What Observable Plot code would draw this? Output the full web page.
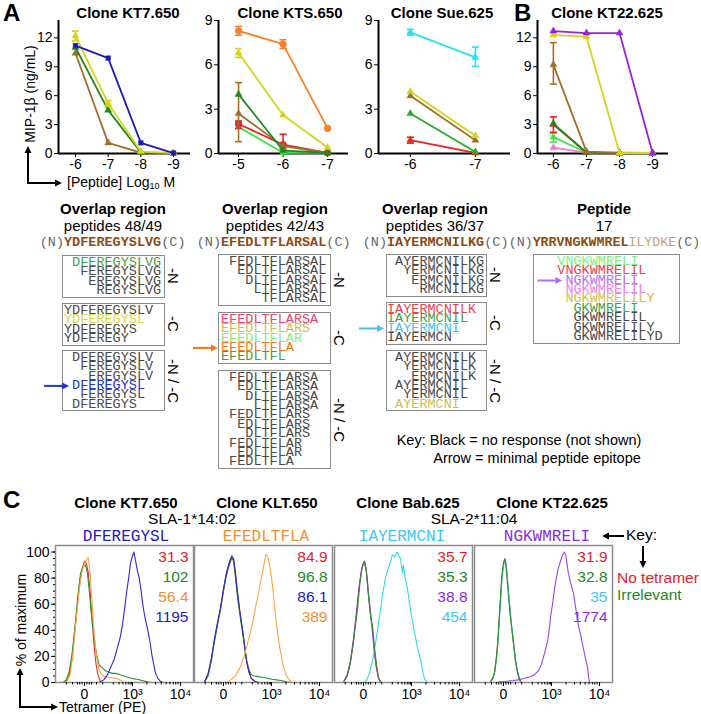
<!DOCTYPE html>
<html><head><meta charset="utf-8">
<script src="https://cdn.jsdelivr.net/npm/d3@7"></script>
<script src="https://cdn.jsdelivr.net/npm/@observablehq/plot@0.6"></script>
<style>
body{margin:0;background:#fff;}
#fig{position:relative;width:701px;height:714px;overflow:hidden;font-family:"Liberation Sans",Arial,sans-serif;color:#000;background:#fff;}
.abs{position:absolute;white-space:nowrap;}
.mono{font-family:"Liberation Mono","Courier New",monospace;}
</style></head><body><div id="fig"></div><script>
// ---------------- DATA ----------------
// Panel A: clone KT7.650
const kt7Dose = [-6, -7, -8, -9];
const kt7Brown = [10.4, 1.1, 0.1, 0.05];
const kt7Green = [11.0, 4.5, 0.1, 0.05];
const kt7Yellow = [12.2, 5.2, 0.2, 0.05];
const kt7YellowErr = [[-6, 11.7, 12.7], [-7, 4.9, 5.5]];
const kt7Blue = [11.2, 9.9, 1.1, 0.05];
// clone KTS.650
const ktsDose = [-5, -6, -7];
const ktsLime = [1.8, 0.05, 0.05];
const ktsRed = [2.0, 0.6, 0.05];
const ktsRedErr = [[-5, 1.7, 2.2], [-6, 0.3, 1.3]];
const ktsBrown = [2.7, 0.5, 0.05];
const ktsBrownErr = [[-5, 0.8, 4.8]];
const ktsDGreen = [4.0, 0.2, 0.05];
const ktsYellow = [6.8, 2.6, 0.4];
const ktsYellowErr = [[-5, 6.5, 7.1]];
const ktsOrange = [8.3, 7.4, 1.7];
const ktsOrangeErr = [[-5, 8.0, 8.6], [-6, 7.1, 7.7]];
// clone Sue.625
const sueDose = [-6, -7];
const sueRed = [0.9, 0.05];
const sueRedErr = [[-6, 0.7, 1.1]];
const sueGreen = [2.7, 0.1];
const sueBrown = [3.9, 0.9];
const sueYellow = [4.2, 1.2];
const sueCyan = [8.2, 6.5];
const sueCyanErr = [[-6, 8.0, 8.4], [-7, 5.9, 7.2]];
// Panel B: clone KT22.625
const kt22Dose = [-6, -7, -8, -9];
const kt22Pink = [0.6, 0.1, 0.05, 0.05];
const kt22Lime = [1.7, 0.1, 0.05, 0.05];
const kt22LimeErr = [[-6, 1.2, 2.1]];
const kt22Red = [3.0, 0.1, 0.05, 0.05];
const kt22RedErr = [[-6, 2.2, 3.8]];
const kt22DGreen = [3.1, 0.1, 0.05, 0.05];
const kt22Brown = [9.2, 0.2, 0.1, 0.05];
const kt22BrownErr = [[-6, 7.2, 11.5]];
const kt22Yellow = [12.3, 12.1, 0.05, 0.05];
const kt22Purple = [12.7, 12.5, 12.5, 0.05];

// Peptide truncations: [sequence, response colour key or null]
const pep4849Parent = "YDFEREGYSLVG";
const pep4849N = [["DFEREGYSLVG","green"],["FEREGYSLVG",null],["EREGYSLVG",null],["REGYSLVG",null]];
const pep4849C = [["YDFEREGYSLV",null],["YDFEREGYSL","yellow"],["YDFEREGYS",null],["YDFEREGY",null]];
const pep4849NC = [["DFEREGYSLV",null],["FEREGYSLV",null],["EREGYSLV",null],["DFEREGYSL","blue"],["FEREGYSL",null],["DFEREGYS",null]];
const pep4243Parent = "EFEDLTFLARSAL";
const pep4243N = [["FEDLTFLARSAL",null],["EDLTFLARSAL",null],["DLTFLARSAL",null],["LTFLARSAL",null],["TFLARSAL",null]];
const pep4243C = [["EFEDLTFLARSA","pink"],["EFEDLTFLARS","khaki"],["EFEDLTFLAR","lime"],["EFEDLTFLA","orange"],["EFEDLTFL","green"]];
const pep4243NC = [["FEDLTFLARSA",null],["EDLTFLARSA",null],["DLTFLARSA",null],["LTFLARSA",null],["FEDLTFLARS",null],["EDLTFLARS",null],["DLTFLARS",null],["FEDLTFLAR",null],["EDLTFLAR",null],["FEDLTFLA",null]];
const pep3637Parent = "IAYERMCNILKG";
const pep3637N = [["AYERMCNILKG",null],["YERMCNILKG",null],["ERMCNILKG",null],["RMCNILKG",null]];
const pep3637C = [["IAYERMCNILK","red"],["IAYERMCNIL","green"],["IAYERMCNI","sky"],["IAYERMCN",null]];
const pep3637NC = [["AYERMCNILK",null],["YERMCNILK",null],["ERMCNILK",null],["AYERMCNIL",null],["YERMCNIL",null],["AYERMCNI","khaki"]];
const pep17Core = "YRRVNGKWMREL";
const pep17Tail = "ILYDKE";
const pep17 = [["VNGKWMRELI","lime"],["VNGKWMRELIL","red"],["NGKWMRELI","violet"],["NGKWMRELIL","magenta"],["NGKWMRELILY","khaki"],["GKWMRELI","green"],["GKWMRELIL",null],["GKWMRELILY",null],["GKWMRELILYD",null]];
const epitopes = ["DFEREGYSL", "EFEDLTFLA", "IAYERMCNI", "NGKWMRELI"];

// Panel C: histograms, [display position (0 -> 2, 10^3 -> 3, 10^4 -> 4), % of max]
const p1Red = [[1.60,0],[1.68,5],[1.74,18],[1.80,40],[1.86,62],[1.91,80],[1.96,88],[2.00,93],[2.04,91],[2.08,84],[2.12,68],[2.16,48],[2.20,28],[2.24,14],[2.28,6],[2.33,1],[2.38,0]];
const p1Green = [[1.55,0],[1.62,2],[1.68,8],[1.74,22],[1.80,42],[1.86,66],[1.92,84],[1.97,89],[2.02,90],[2.06,84],[2.10,70],[2.15,50],[2.20,34],[2.25,22],[2.30,14],[2.34,12],[2.38,11],[2.44,9],[2.50,8],[2.58,7],[2.66,7],[2.74,6],[2.82,5],[2.90,4],[3.00,3],[3.10,2.5],[3.20,1.5],[3.30,0.5],[3.40,0]];
const p1Orange = [[1.62,0],[1.70,6],[1.76,22],[1.82,46],[1.88,68],[1.94,84],[1.99,90],[2.04,94],[2.08,96],[2.12,82],[2.16,60],[2.20,38],[2.25,20],[2.30,10],[2.36,6],[2.44,4],[2.52,4],[2.60,3.5],[2.68,3],[2.76,1.5],[2.84,0]];
const p1Blue = [[2.30,0],[2.40,2],[2.48,6],[2.55,12],[2.62,18],[2.68,26],[2.74,34],[2.79,44],[2.84,58],[2.88,70],[2.92,80],[2.96,92],[3.00,97],[3.03,100],[3.06,94],[3.10,86],[3.14,80],[3.18,70],[3.22,58],[3.27,48],[3.32,40],[3.36,32],[3.40,22],[3.44,14],[3.48,7],[3.53,3],[3.58,1],[3.64,0]];
const p2Red = [[1.60,0],[1.68,6],[1.75,18],[1.80,30],[1.87,44],[1.94,56],[2.00,70],[2.06,82],[2.12,90],[2.17,95],[2.21,94],[2.25,82],[2.29,68],[2.34,54],[2.39,42],[2.44,28],[2.48,16],[2.53,8],[2.58,3],[2.65,1],[2.72,0]];
const p2Green = [[1.60,0],[1.68,5],[1.75,17],[1.80,29],[1.87,43],[1.94,57],[2.00,71],[2.06,83],[2.12,91],[2.17,96],[2.21,93],[2.25,80],[2.29,66],[2.34,52],[2.39,40],[2.44,27],[2.48,17],[2.53,10],[2.58,6],[2.64,5],[2.72,4.5],[2.80,4],[2.90,3.5],[3.00,2.5],[3.10,2],[3.20,1.5],[3.30,0.5],[3.40,0]];
const p2Blue = [[1.60,0],[1.68,7],[1.75,19],[1.80,31],[1.87,45],[1.94,58],[2.00,72],[2.06,84],[2.12,92],[2.17,97],[2.21,95],[2.25,84],[2.29,70],[2.34,55],[2.39,42],[2.44,28],[2.48,17],[2.53,8],[2.58,3],[2.65,1],[2.72,0]];
const p2Orange = [[2.05,0],[2.15,2],[2.25,5],[2.35,12],[2.43,20],[2.50,30],[2.57,40],[2.63,50],[2.68,60],[2.73,68],[2.77,77],[2.81,84],[2.85,92],[2.88,98],[2.92,97],[2.96,90],[3.00,80],[3.04,68],[3.08,52],[3.12,40],[3.16,29],[3.21,19],[3.25,12],[3.30,6],[3.35,3],[3.42,0]];
const p3Red = [[1.58,0],[1.66,5],[1.74,18],[1.80,35],[1.86,55],[1.92,76],[1.97,88],[2.02,93],[2.06,86],[2.10,70],[2.15,52],[2.19,40],[2.23,24],[2.27,12],[2.31,4],[2.36,0]];
const p3Purple = [[1.58,0],[1.66,6],[1.73,17],[1.79,33],[1.85,53],[1.91,74],[1.96,87],[2.01,92],[2.05,88],[2.09,72],[2.14,54],[2.18,41],[2.22,25],[2.26,13],[2.30,5],[2.35,0]];
const p3Cyan = [[2.02,0],[2.08,3],[2.13,8],[2.19,17],[2.25,30],[2.30,42],[2.35,55],[2.40,68],[2.46,81],[2.52,88],[2.56,92],[2.60,98],[2.65,96],[2.70,100],[2.74,97],[2.77,95],[2.81,84],[2.83,90],[2.87,80],[2.92,71],[2.98,55],[3.03,45],[3.08,35],[3.13,26],[3.19,17],[3.23,9],[3.27,3],[3.33,0]];
const p3Green = [[1.58,0],[1.66,5],[1.72,14],[1.78,28],[1.84,46],[1.88,58],[1.93,78],[1.98,90],[2.02,93],[2.06,85],[2.10,68],[2.15,50],[2.19,42],[2.23,26],[2.27,14],[2.31,4],[2.36,0]];
const p4Red = [[1.72,0],[1.78,4],[1.82,9],[1.86,22],[1.89,36],[1.93,60],[1.97,82],[2.01,92],[2.04,93],[2.07,84],[2.11,66],[2.16,46],[2.21,29],[2.25,16],[2.29,8],[2.33,2],[2.37,0]];
const p4Cyan = [[1.72,0],[1.78,3],[1.82,8],[1.86,20],[1.89,33],[1.93,58],[1.97,81],[2.01,93],[2.04,94],[2.07,85],[2.11,67],[2.16,47],[2.21,30],[2.25,17],[2.29,9],[2.33,3],[2.37,0]];
const p4Purple = [[1.85,0],[1.95,0.5],[2.08,1],[2.20,1.5],[2.30,2],[2.42,3],[2.52,4],[2.60,5],[2.67,7],[2.73,9],[2.78,13],[2.83,19],[2.88,26],[2.92,32],[2.95,40],[2.98,50],[3.02,60],[3.06,71],[3.10,80],[3.13,86],[3.18,92],[3.23,98],[3.27,100],[3.30,97],[3.35,84],[3.40,76],[3.46,68],[3.50,58],[3.54,48],[3.57,42],[3.60,38],[3.64,30],[3.67,25],[3.71,18],[3.75,12],[3.77,5],[3.79,0]];
const p4Green = [[1.72,0],[1.78,3],[1.81,7],[1.85,18],[1.88,30],[1.92,55],[1.96,80],[2.00,92],[2.03,95],[2.06,86],[2.10,68],[2.15,48],[2.21,30],[2.25,17],[2.29,9],[2.33,3],[2.37,0]];
const p1Mfi = ["31.3", "102", "56.4", "1195"];
const p2Mfi = ["84.9", "96.8", "86.1", "389"];
const p3Mfi = ["35.7", "35.3", "38.8", "454"];
const p4Mfi = ["31.9", "32.8", "35", "1774"];
const histTickLabels = ["0", "10³", "10⁴"];

// ---------------- STYLES ----------------
const C = {blue:"#1c1cb4", yellow:"#d4d41c", dgreen:"#1e8a1e", brown:"#a26e2c", orange:"#f5822a", red:"#e82222", lime:"#3ee63e", cyan:"#22e4f2", purple:"#9b22d6", pink:"#f27ad8", green:"#26b026"};
const PC = {green:"#44a044", yellow:"#d8d848", blue:"#2434d0", pink:"#f04070", khaki:"#cfbf4c", lime:"#7ef07e", orange:"#f07818", sky:"#48c0f0", red:"#f04050", violet:"#b070f0", magenta:"#f080e8"};
const H = {red:"#ee2a2a", green:"#2e902e", orange:"#f7a648", blue:"#2c2cd0", cyan:"#34dcdc", purple:"#9a48e4"};
const N = {red:"#e8202a", green:"#228a22", orange:"#f09030", blue:"#2020c0", cyan:"#40c8f0", purple:"#8a2be2"};
const SANS = "Liberation Sans, Arial, sans-serif";
const fig = document.getElementById("fig");

function label(html, x, y, o = {}) {
  const el = document.createElement("div");
  el.className = "abs" + (o.mono ? " mono" : "");
  el.innerHTML = html;
  el.style.left = x + "px"; el.style.top = y + "px";
  el.style.fontSize = (o.size || 14) + "px";
  el.style.lineHeight = o.lh ? o.lh + "px" : "1";
  if (o.lh) el.style.height = o.lh + "px";
  if (o.weight) el.style.fontWeight = o.weight;
  if (o.color) el.style.color = o.color;
  const a = o.anchor || "middle";
  const tx = a === "middle" ? "-50%" : a === "end" ? "-100%" : "0";
  el.style.transform = `translate(${tx},-50%)` + (o.rot ? ` rotate(${o.rot}deg)` : "");
  fig.append(el);
  return el;
}
function place(node, left, top) {
  const d = document.createElement("div");
  d.className = "abs"; d.style.left = left + "px"; d.style.top = top + "px";
  d.append(node); fig.append(d);
}
const capSym = {draw(ctx, size) { const r = Math.sqrt(size / Math.PI); ctx.moveTo(-r, 0); ctx.lineTo(r, 0); }};

function linePlot(o) {
  const marks = [
    Plot.ruleY([0], {strokeWidth: 2}),
    Plot.ruleX([o.xDomain[0]], {y1: 0, y2: o.yDomain[1], strokeWidth: 2}),
    Plot.axisX({ticks: o.xTicks, tickSize: 4, tickPadding: 2, tickFormat: d => String(d), fontSize: 14, label: null}),
    Plot.axisY({ticks: o.yTicks, tickSize: 4, tickPadding: 2, tickFormat: d => String(d), fontSize: 14, label: null})
  ];
  for (const s of o.series) {
    const pts = o.dose.map((x, i) => ({x, y: s.v[i]}));
    marks.push(Plot.line(pts, {x: "x", y: "y", stroke: s.c, strokeWidth: 1.8}));
    if (s.err) {
      const e = s.err.map(([x, lo, hi]) => ({x, lo, hi}));
      marks.push(Plot.ruleX(e, {x: "x", y1: "lo", y2: "hi", stroke: s.c, strokeWidth: 1.6}));
      marks.push(Plot.dot(e, {x: "x", y: "lo", symbol: capSym, r: 3.5, stroke: s.c, fill: "none", strokeWidth: 1.6}));
      marks.push(Plot.dot(e, {x: "x", y: "hi", symbol: capSym, r: 3.5, stroke: s.c, fill: "none", strokeWidth: 1.6}));
    }
    marks.push(Plot.dot(pts, {x: "x", y: "y", symbol: s.sym || "triangle", r: s.sym === "circle" ? 3.4 : 2.6, fill: s.c, stroke: s.c, strokeWidth: 0.5}));
  }
  const svg = Plot.plot({
    width: o.width, height: 165, marginLeft: o.mL, marginRight: 5, marginTop: 10, marginBottom: 22,
    x: {domain: o.xDomain}, y: {domain: o.yDomain},
    style: {fontFamily: SANS, fontSize: "14px", background: "transparent", overflow: "visible", color: "#000"},
    marks
  });
  place(svg, o.left, 10);
}

linePlot({left: 20, width: 175, mL: 38, dose: kt7Dose, xDomain: [-5.48, -9.52], yDomain: [0, 13.8], xTicks: [-6, -7, -8, -9], yTicks: [0, 3, 6, 9, 12],
  series: [{v: kt7Brown, c: C.brown}, {v: kt7Green, c: C.dgreen}, {v: kt7Yellow, c: C.yellow, err: kt7YellowErr}, {v: kt7Blue, c: C.blue, sym: "square"}]});
linePlot({left: 188, width: 165, mL: 30, dose: ktsDose, xDomain: [-4.55, -7.47], yDomain: [0, 9], xTicks: [-5, -6, -7], yTicks: [0, 3, 6, 9],
  series: [{v: ktsLime, c: C.lime}, {v: ktsRed, c: C.red, err: ktsRedErr, sym: "circle"}, {v: ktsBrown, c: C.brown, err: ktsBrownErr}, {v: ktsDGreen, c: C.dgreen}, {v: ktsYellow, c: C.yellow, err: ktsYellowErr}, {v: ktsOrange, c: C.orange, err: ktsOrangeErr, sym: "circle"}]});
linePlot({left: 348, width: 167, mL: 30, dose: sueDose, xDomain: [-5.51, -7.54], yDomain: [0, 9], xTicks: [-6, -7], yTicks: [0, 3, 6, 9],
  series: [{v: sueRed, c: C.red, err: sueRedErr}, {v: sueGreen, c: C.green}, {v: sueBrown, c: C.brown}, {v: sueYellow, c: C.yellow}, {v: sueCyan, c: C.cyan, err: sueCyanErr}]});
linePlot({left: 507, width: 166, mL: 30, dose: kt22Dose, xDomain: [-5.52, -9.48], yDomain: [0, 13.8], xTicks: [-6, -7, -8, -9], yTicks: [0, 3, 6, 9, 12],
  series: [{v: kt22Pink, c: C.pink}, {v: kt22Lime, c: C.lime, err: kt22LimeErr}, {v: kt22Red, c: C.red, err: kt22RedErr}, {v: kt22DGreen, c: C.dgreen}, {v: kt22Brown, c: C.brown, err: kt22BrownErr}, {v: kt22Yellow, c: C.yellow}, {v: kt22Purple, c: C.purple}]});

// Titles panel A/B
label("A", 3, 13, {anchor: "start", size: 24, weight: "bold"});
label("B", 514, 13, {anchor: "start", size: 24, weight: "bold"});
label("Clone KT7.650", 128, 12, {size: 15, weight: "bold"});
label("Clone KTS.650", 290, 12, {size: 15, weight: "bold"});
label("Clone Sue.625", 442, 12, {size: 15, weight: "bold"});
label("Clone KT22.625", 607, 12, {size: 15, weight: "bold"});
label("MIP-1β (ng/mL)", 30, 94, {size: 14, rot: -90});
label("[Peptide] Log<sub style='font-size:9px;vertical-align:-2px'>10</sub> M", 67, 183, {anchor: "start", size: 14});

// ---------------- Peptide columns ----------------
const LH = 9.4, FS = 13.5, CW = FS * 0.6;
const arrows = [];
function column(o) {
  label(o.title, o.cx, 208, {size: 15, weight: "bold"});
  label(o.sub, o.cx, 225, {size: 15});
  const seqHtml = `<span style="color:#666">(N)</span><span style="color:#8e4a12;font-weight:bold">${o.parent}</span>` +
    (o.tail ? `<span style="color:#c9a070">${o.tail}</span>` : "") + `<span style="color:#666">(C)</span>`;
  label(seqHtml, o.x0 - 3 * CW, 243, {anchor: "start", size: o.tail ? 13.3 : FS, mono: true});
  const full = o.parent + (o.tail || "");
  for (const b of o.boxes) {
    const h = 5 + b.items.length * LH;
    const bx = document.createElement("div");
    bx.className = "abs";
    Object.assign(bx.style, {left: o.boxL + "px", top: b.top + "px", width: o.boxW + "px", height: h + "px", border: "1px solid #8a8a8a", boxSizing: "border-box"});
    fig.append(bx);
    b.items.forEach(([seq, resp], i) => {
      const off = full.indexOf(seq);
      const x = o.x0 + off * CW;
      const yc = b.top + 3 + (i + 0.5) * LH;
      label(seq, x, yc, {anchor: "start", size: FS, mono: true, lh: LH, color: resp ? PC[resp] : "#4a4a4a"});
      if (seq === o.epitope) arrows.push({x1: x - 28, x2: x - 3, y: yc, c: PC[resp]});
    });
    if (b.tag) label(b.tag, o.boxL + o.boxW + 8, b.top + h / 2, {size: 15, rot: 90});
  }
}
column({title: "Overlap region", sub: "peptides 48/49", cx: 113, x0: 64, boxL: 62, boxW: 103, parent: pep4849Parent, epitope: epitopes[0],
  boxes: [{top: 255, items: pep4849N, tag: "-N"}, {top: 303, items: pep4849C, tag: "-C"}, {top: 350, items: pep4849NC, tag: "-N / -C"}]});
column({title: "Overlap region", sub: "peptides 42/43", cx: 275, x0: 221, boxL: 218, boxW: 113, parent: pep4243Parent, epitope: epitopes[1],
  boxes: [{top: 254, items: pep4243N, tag: "-N"}, {top: 312, items: pep4243C, tag: "-C"}, {top: 370, items: pep4243NC, tag: "-N / -C"}]});
column({title: "Overlap region", sub: "peptides 36/37", cx: 435, x0: 387, boxL: 386, boxW: 101, parent: pep3637Parent, epitope: epitopes[2],
  boxes: [{top: 254, items: pep3637N, tag: "-N"}, {top: 302, items: pep3637C, tag: "-C"}, {top: 350, items: pep3637NC, tag: "-N / -C"}]});
column({title: "Peptide", sub: "17", cx: 604, x0: 533, boxL: 533, boxW: 147, parent: pep17Core, tail: pep17Tail, epitope: epitopes[3],
  boxes: [{top: 254, items: pep17}]});
label("Key: Black = no response (not shown)", 519, 440, {size: 14.5});
label("Arrow = minimal peptide epitope", 537, 458, {size: 14.5});

// ---------------- Panel C ----------------
label("C", 3, 500, {anchor: "start", size: 24, weight: "bold"});
label("Clone KT7.650", 126, 502, {size: 15, weight: "bold"});
label("Clone KLT.650", 267, 502, {size: 15, weight: "bold"});
label("Clone Bab.625", 408, 502, {size: 15, weight: "bold"});
label("Clone KT22.625", 552, 502, {size: 15, weight: "bold"});
label("SLA-1*14:02", 192, 519, {size: 15.5});
label("SLA-2*11:04", 474, 519, {size: 15.5});
label(epitopes[0], 126, 537, {size: 16, mono: true, color: N.blue});
label(epitopes[1], 266, 537, {size: 16, mono: true, color: N.orange});
label(epitopes[2], 402, 537, {size: 16, mono: true, color: N.cyan});
label(epitopes[3], 547, 537, {size: 16, mono: true, color: N.purple});
label("Key:", 626, 535, {anchor: "start", size: 15.5});
label("No tetramer", 617, 578, {anchor: "start", size: 15.5, color: N.red});
label("Irrelevant", 617, 595, {anchor: "start", size: 15.5, color: N.green});
label("% of maximum", 21, 620, {size: 14, rot: -90});
label("Tetramer (PE)", 59, 707, {anchor: "start", size: 14});

const minorX = [1.62, 1.75, 1.85, 1.9, 1.95, 2.05, 2.1, 2.15, 2.25, 2.38, 2.6, 2.72, 2.8, 2.86, 2.91, 2.95, 2.98, 3.3, 3.48, 3.6, 3.7, 3.78, 3.85, 3.9, 3.95];
function histPlot(o) {
  const marks = [
    Plot.frame({stroke: "#8c8c8c", strokeWidth: 1.5}),
    Plot.axisX({ticks: [2, 3, 4], tickSize: 4, tickPadding: 3, tickFormat: (d, i) => histTickLabels[i], fontSize: 14, label: null}),
    Plot.axisX({ticks: minorX, tickSize: 2.5, tickFormat: () => "", label: null})
  ];
  if (o.showY) {
    marks.push(Plot.axisY({ticks: [0, 20, 40, 60, 80, 100], tickSize: 4, tickPadding: 2, fontSize: 14, label: null}));
    marks.push(Plot.axisY({ticks: d3.range(0, 101, 5), tickSize: 2, tickFormat: () => "", label: null}));
  }
  for (const cv of o.curves) marks.push(Plot.line(cv.pts, {x: d => d[0], y: d => d[1], stroke: cv.c, strokeWidth: 1.1, clip: true}));
  o.mfi.forEach((t, i) => marks.push(Plot.text([t], {frameAnchor: "top-right", lineAnchor: "middle", dx: -5, dy: 12 + i * 20, text: d => d, fill: o.mfiColors[i], fontSize: 15.5, textAnchor: "end"})));
  const svg = Plot.plot({
    width: o.showY ? 194 : 140, height: 175, marginLeft: o.showY ? 55 : 1, marginRight: 1, marginTop: 10, marginBottom: 28,
    x: {domain: [1.396, 4.27]}, y: {domain: [0, 105], axis: o.showY ? undefined : null},
    style: {fontFamily: SANS, fontSize: "14px", background: "transparent", overflow: "visible", color: "#000"},
    marks
  });
  place(svg, o.left, 535);
}
histPlot({left: 0, showY: true, curves: [{pts: p1Red, c: H.red}, {pts: p1Green, c: H.green}, {pts: p1Orange, c: H.orange}, {pts: p1Blue, c: H.blue}], mfi: p1Mfi, mfiColors: [N.red, N.green, N.orange, N.blue]});
histPlot({left: 193, curves: [{pts: p2Red, c: H.red}, {pts: p2Green, c: H.green}, {pts: p2Blue, c: H.blue}, {pts: p2Orange, c: H.orange}], mfi: p2Mfi, mfiColors: [N.red, N.green, N.blue, N.orange]});
histPlot({left: 333, curves: [{pts: p3Red, c: H.red}, {pts: p3Purple, c: H.purple}, {pts: p3Cyan, c: H.cyan}, {pts: p3Green, c: H.green}], mfi: p3Mfi, mfiColors: [N.red, N.green, N.purple, N.cyan]});
histPlot({left: 473, curves: [{pts: p4Red, c: H.red}, {pts: p4Cyan, c: H.cyan}, {pts: p4Purple, c: H.purple}, {pts: p4Green, c: H.green}], mfi: p4Mfi, mfiColors: [N.red, N.green, N.cyan, N.purple]});

// ---------------- Arrows (annotations) ----------------
function arrow(x1, y1, x2, y2, c, w = 2, hl = 7, hw = 3.5) {
  const dx = x2 - x1, dy = y2 - y1, L = Math.hypot(dx, dy), ux = dx / L, uy = dy / L;
  const bx = x2 - ux * hl, by = y2 - uy * hl;
  return `<line x1="${x1}" y1="${y1}" x2="${bx}" y2="${by}" stroke="${c}" stroke-width="${w}"/>` +
    `<polygon points="${x2},${y2} ${bx - uy * hw},${by + ux * hw} ${bx + uy * hw},${by - ux * hw}" fill="${c}"/>`;
}
let s = "";
s += arrow(28, 183, 28, 146, "#000") + `<line x1="27" y1="183" x2="52" y2="183" stroke="#000" stroke-width="2"/>` + arrow(50, 183, 62, 183, "#000");
s += arrow(20, 707, 20, 668, "#000") + `<line x1="19" y1="707" x2="48" y2="707" stroke="#000" stroke-width="2"/>` + arrow(46, 707, 58, 707, "#000");
for (const a of arrows) s += arrow(a.x1, a.y, a.x2, a.y, a.c);
s += arrow(624, 536, 602, 536, "#000");
s += arrow(643, 546, 643, 568, "#000");
const ov = document.createElementNS("http://www.w3.org/2000/svg", "svg");
ov.setAttribute("width", 701); ov.setAttribute("height", 714);
ov.style.position = "absolute"; ov.style.left = "0"; ov.style.top = "0"; ov.style.pointerEvents = "none";
ov.innerHTML = s;
fig.append(ov);
</script></body></html>
